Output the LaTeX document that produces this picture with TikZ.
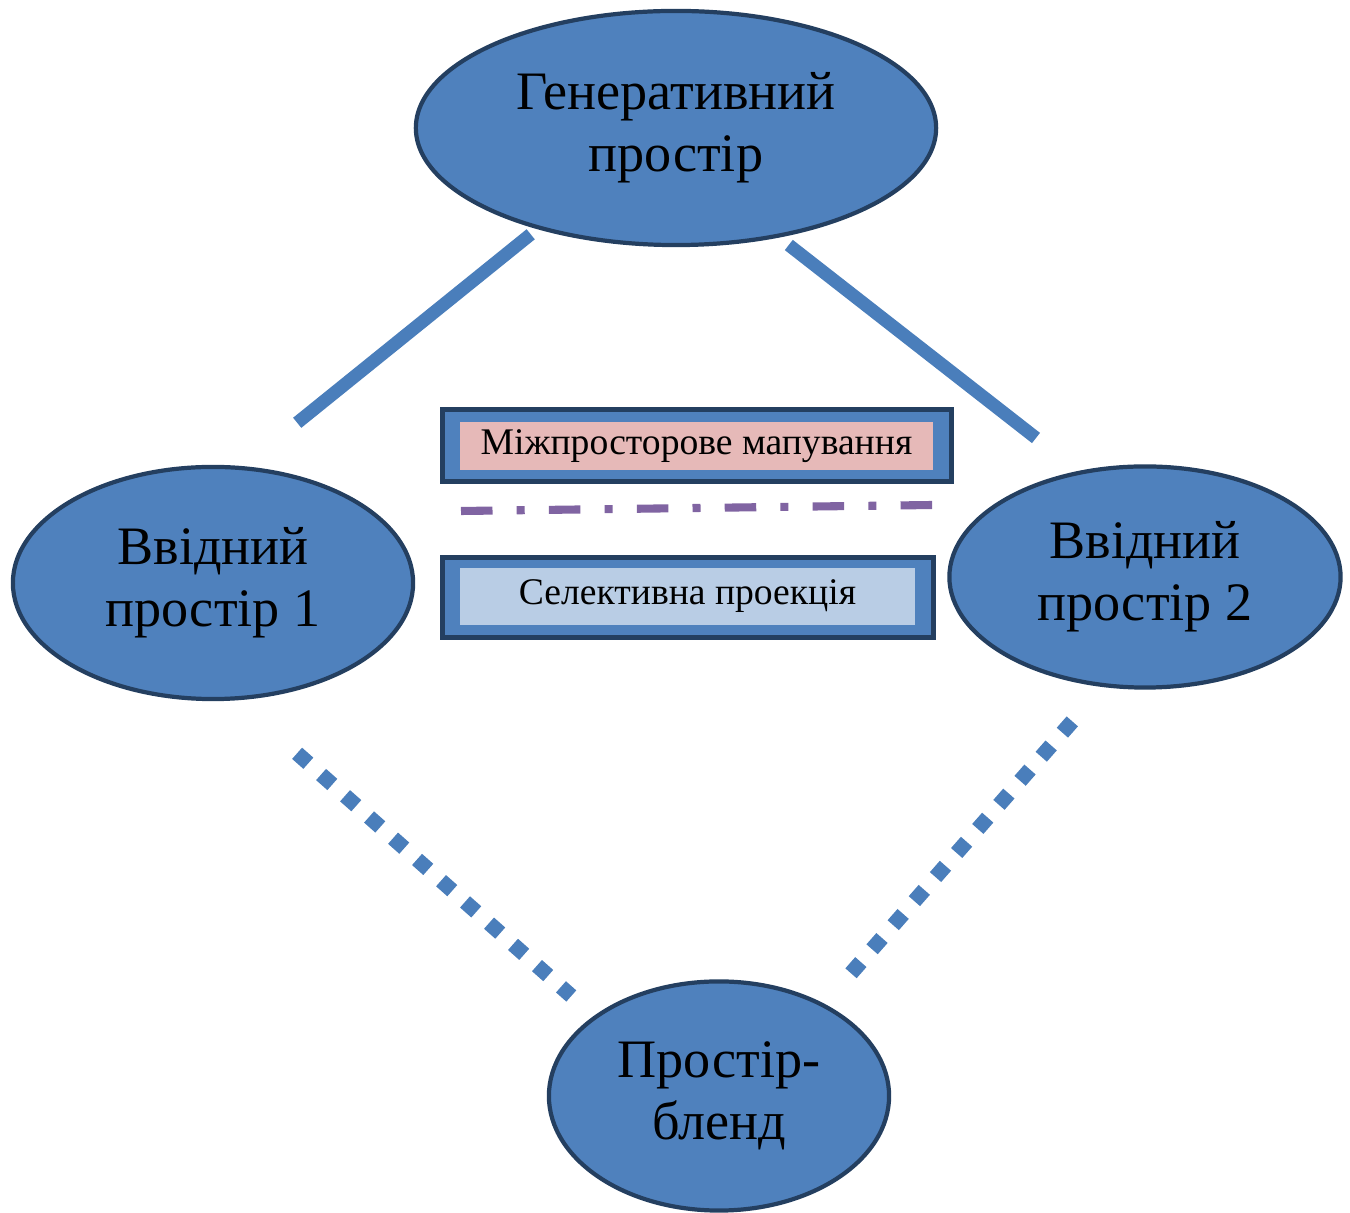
\documentclass[tikz,border=0pt]{standalone}
\usepackage{fontspec}
\setmainfont{Liberation Serif}
\usetikzlibrary{shapes.geometric}

\definecolor{spacefill}{HTML}{4F81BD}
\definecolor{spaceedge}{HTML}{243F60}
\definecolor{linkblue}{HTML}{4A7EBB}
\definecolor{mapfill}{HTML}{E6B9B8}
\definecolor{projfill}{HTML}{B9CDE5}
\definecolor{mappurple}{HTML}{8064A2}

\begin{document}
\begin{tikzpicture}[x=0.01cm, y=-0.01cm,
  space/.style={ellipse, draw=spaceedge, fill=spacefill, line width=1.2pt,
    inner sep=0pt, align=center, font=\fontsize{15.4}{17.6}\selectfont},
  frame/.style={rectangle, draw=spaceedge, fill=spacefill, line width=1.4pt, inner sep=0pt},
  panel/.style={rectangle, inner sep=0pt, font=\fontsize{10.7}{12}\selectfont},
  solidlink/.style={draw=linkblue, line width=3.7pt},
  dottedlink/.style={draw=linkblue, line width=4.27pt, dash pattern=on 4.27pt off 4.84pt},
  mapline/.style={draw=mappurple, line width=2.3pt,
    dash pattern=on 8.96pt off 6.88pt on 2.28pt off 6.88pt}]

\useasboundingbox (0,0) rectangle (1350,1213);

% mental spaces
\node[space, minimum width=5.20cm, minimum height=2.34cm] (generic) at (676,128)
  {Генеративний\\простір};
\node[space, minimum width=4.00cm, minimum height=2.32cm] (input1) at (213,583)
  {Ввідний\\простір 1};
\node[space, minimum width=3.91cm, minimum height=2.21cm] (input2) at (1145,577)
  {Ввідний\\простір 2};
\node[space, minimum width=3.40cm, minimum height=2.29cm] (blend) at (719,1096)
  {Простір-\\бленд};

% legend boxes
\node[frame, minimum width=5.085cm, minimum height=0.72cm] (mapframe) at (696.75,445.5) {};
\node[panel, fill=mapfill, minimum width=4.73cm, minimum height=0.48cm] (mapinner)
  at (696.5,446) {Міжпросторове мапування};
\node[frame, minimum width=4.905cm, minimum height=0.80cm] (projframe) at (687.75,597.5) {};
\node[panel, fill=projfill, minimum width=4.55cm, minimum height=0.57cm] (projinner)
  at (687.5,596.5) {Селективна проекція};

% end points of the links
\coordinate (g1) at (530.7,234.3);
\coordinate (i1top) at (297.2,422.8);
\coordinate (g2) at (788.8,245);
\coordinate (i2top) at (1036,438);
\coordinate (i1bot) at (297.1,753.3);
\coordinate (b1) at (571.3,996);
\coordinate (i2bot) at (1072.3,721.4);
\coordinate (b2) at (851,973.3);
\coordinate (mapL) at (461,511);
\coordinate (mapR) at (933,505);

% links
\draw[solidlink] (g1) -- (i1top);
\draw[solidlink] (g2) -- (i2top);
\draw[dottedlink] (i1bot) -- (b1);
\draw[dottedlink] (i2bot) -- (b2);
\draw[mapline] (mapL) -- (mapR);
\end{tikzpicture}
\end{document}
